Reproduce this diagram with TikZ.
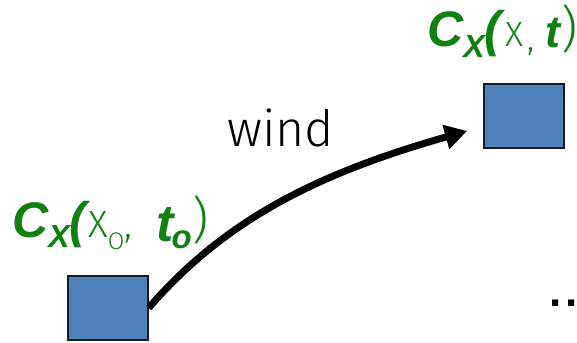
\documentclass[tikz,border=0pt]{standalone}
\usepackage{fontspec}
\setmainfont{Liberation Sans}
\IfFontExistsTF{Fira Sans Light}{\newfontfamily\thinf{Fira Sans Light}}{%
  \IfFontExistsTF{Lato Light}{\newfontfamily\thinf{Lato Light}}{%
    \IfFontExistsTF{DejaVu Sans ExtraLight}{\newfontfamily\thinf{DejaVu Sans ExtraLight}}{%
      \newfontfamily\thinf{Liberation Sans}}}}
\usetikzlibrary{arrows.meta}
\definecolor{boxblue}{RGB}{79,129,189}
\definecolor{boxedge}{RGB}{25,25,25}
\definecolor{lblgreen}{RGB}{16,128,16}
\newcommand\fsz[1]{\fontsize{#1}{#1}\selectfont}
\tikzset{
  cell/.style={draw=boxedge, line width=1.3pt, fill=boxblue, minimum width=80pt, minimum height=64pt, inner sep=0pt},
  lbl/.style={text=lblgreen, inner sep=0pt, anchor=base west},
  flow/.style={line width=7pt, -{Triangle[length=22pt,width=24pt]}}
}
\begin{document}
\begin{tikzpicture}[x=1pt,y=1pt]
\useasboundingbox (0,0) rectangle (577,342);
\node[cell] (A) at (108,34) {};
\node[cell] (B) at (524,226) {};
\coordinate (tip) at (467,211);
\draw[flow] (A.east) .. controls (227,125) and (323,170) .. (tip);
\node[inner sep=0pt, anchor=base west] (w) at (227,195) {\thinf\fsz{50}wind};
\node[lbl] (la) at (12,104) {{\bfseries\itshape\fsz{50}C\raisebox{-10pt}{\fsz{32}X}\fsz{50}(}\kern2pt{\thinf\fsz{38}X\raisebox{-12pt}{\fsz{24}O},}\kern24pt{\bfseries\itshape\raisebox{-4pt}{\fsz{52}t}\kern-2pt\raisebox{-11pt}{\fsz{33}o}}\kern1pt{\thinf\fsz{50})}};
\node[lbl] (lb) at (427,295) {{\bfseries\itshape\fsz{50}C\raisebox{-11pt}{\fsz{32}X}\fsz{50}(}\kern4pt{\thinf\fsz{35}X\kern4pt\raisebox{-4pt}{,}}\kern11pt{\bfseries\itshape\raisebox{-1pt}{\fsz{45}t}}\kern1pt{\thinf\fsz{50})}};
\node[inner sep=0pt, anchor=base west] (dots) at (549,35) {\bfseries\fsz{44}.\kern4pt.};
\end{tikzpicture}
\end{document}
